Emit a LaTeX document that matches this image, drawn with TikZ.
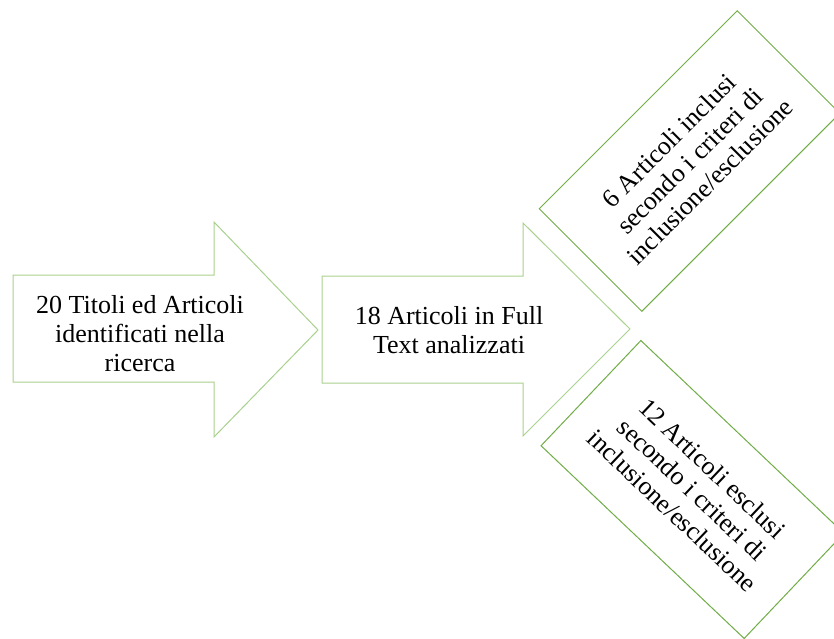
\documentclass[tikz,border=0pt]{standalone}
\usepackage{fontspec}
\setmainfont{Liberation Serif}
\definecolor{arrowgreen}{RGB}{169,209,142}
\definecolor{boxgreen}{RGB}{112,173,71}
\tikzset{
  arrowshape/.style={draw=arrowgreen, line width=1pt, fill=white, line join=miter},
  boxshape/.style={draw=boxgreen, line width=1pt, fill=white, minimum width=280pt, minimum height=145pt, inner sep=0pt, align=center},
  label/.style={align=center, inner sep=0pt},
}
\begin{document}
\begin{tikzpicture}[x=1pt,y=-1pt]
\useasboundingbox (0,0) rectangle (834,638);
\clip (0,0) rectangle (834,638);
\fontsize{26}{29}\selectfont
% arrow 1
\draw[arrowshape] (13,275) -- (214,275) -- (214,222) -- (318,330) -- (214,437) -- (214,382) -- (13,382) -- cycle;
\node[label] (a1) at (140,334) {20 Titoli ed Articoli\\identificati nella\\ricerca};
% arrow 2
\draw[arrowshape] (322,276) -- (523,276) -- (523,223) -- (630,329) -- (523,436) -- (523,383) -- (322,383) -- cycle;
\node[label] (a2) at (449,330) {18 Articoli in Full\\Text analizzati};
% boxes
\node[boxshape, rotate=45] (inc) at (689.5,161) {6 Articoli inclusi\\secondo i criteri di\\inclusione/esclusione};
\node[boxshape, rotate=-43.5] (exc) at (692.5,489.5) {12 Articoli esclusi\\secondo i criteri di\\inclusione/esclusione};
\end{tikzpicture}
\end{document}
